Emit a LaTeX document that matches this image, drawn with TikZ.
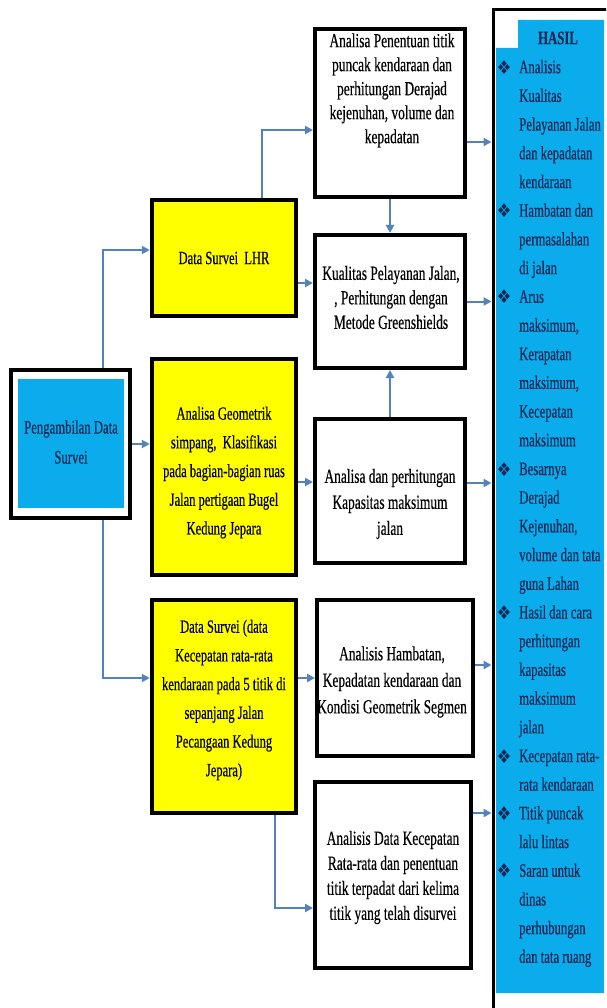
\documentclass[tikz,border=0pt]{standalone}
\usepackage{fontspec}
\setmainfont{Liberation Serif}[FakeStretch=0.67,FakeBold=0.35]
\newfontfamily\bulletfont{DejaVu Sans}[FakeStretch=0.85]
\usetikzlibrary{arrows.meta,calc}
\definecolor{cblue}{RGB}{10,172,236}
\definecolor{navy}{RGB}{20,40,85}
\definecolor{arrowc}{RGB}{84,130,188}
\definecolor{cyel}{RGB}{255,255,0}
\tikzset{
 frame/.style={draw=black, line width=4pt, inner sep=0pt},
 whitebox/.style={frame, fill=white},
 yelbox/.style={frame, line width=4.5pt, fill=cyel},
 wtxt/.style={align=center, inner sep=0pt},
 ytxt/.style={align=center, font=\fontsize{18.7}{28.7}\selectfont, inner sep=0pt},
 arr/.style={draw=arrowc, line width=2pt, -{Triangle[length=8pt,width=8pt]}},
}
\newcommand{\bul}{\makebox[12pt]{\bulletfont\fontsize{19}{19}\selectfont\raisebox{-1pt}{❖}}\hspace*{9pt}}
\newcommand{\ind}{\hspace*{21pt}}
\begin{document}
\begin{tikzpicture}[x=1pt,y=-1pt]
\useasboundingbox (0,0) rectangle (606,1008);
\clip (0,0) rectangle (606,1008);
\fill[white] (0,0) rectangle (606,1008);

% HASIL column
\node[draw=black, line width=3pt, minimum width=120pt, minimum height=1006pt, inner sep=0pt] (hasil) at (553,513) {};
\fill[cblue] (518,20) -- (604,20) -- (604,993) -- (496,993) -- (496,48) -- (518,48) -- cycle;
\node[font=\bfseries\fontsize{19}{19}\selectfont, text=navy, inner sep=0pt] (hasiltitle) at (558,38) {HASIL};
\node[anchor=north west, align=left, inner sep=0pt, text=navy, font=\fontsize{19}{28.7}\selectfont] (hasillist) at (498,53) {\rule{0pt}{20pt}\bul Analisis\\
\ind Kualitas\\
\ind Pelayanan Jalan\\
\ind dan kepadatan\\
\ind kendaraan\\
\bul Hambatan dan\\
\ind permasalahan\\
\ind di jalan\\
\bul Arus\\
\ind maksimum,\\
\ind Kerapatan\\
\ind maksimum,\\
\ind Kecepatan\\
\ind maksimum\\
\bul Besarnya\\
\ind Derajad\\
\ind Kejenuhan,\\
\ind volume dan tata\\
\ind guna Lahan\\
\bul Hasil dan cara\\
\ind perhitungan\\
\ind kapasitas\\
\ind maksimum\\
\ind jalan\\
\bul Kecepatan rata-\\
\ind rata kendaraan\\
\bul Titik puncak\\
\ind lalu lintas\\
\bul Saran untuk\\
\ind dinas\\
\ind perhubungan\\
\ind dan tata ruang};

% left box
\node[whitebox, minimum width=119pt, minimum height=148pt] (left) at (70.5,444) {};
\fill[cblue] (18,379) rectangle (124,508);
\node[align=center, text=navy, font=\fontsize{19}{30}\selectfont, inner sep=0pt] (lefttxt) at (71,442) {Pengambilan Data\\Survei};

% yellow boxes
\node[yelbox, ytxt, minimum width=144pt, minimum height=116pt] (y1) at (224,258) {Data Survei\ \ LHR};
\node[yelbox, minimum width=144pt, minimum height=216pt] (y2) at (224,467) {};
\node[ytxt] (y2t) at (224,472.6) {Analisa Geometrik\\simpang,\ \ Klasifikasi\\pada bagian-bagian ruas\\Jalan pertigaan Bugel\\Kedung Jepara};
\node[yelbox, minimum width=144pt, minimum height=213pt] (y3) at (224,706.5) {};
\node[ytxt] (y3t) at (224,700) {Data Survei (data\\Kecepatan rata-rata\\kendaraan pada 5 titik di\\sepanjang Jalan\\Pecangaan Kedung\\Jepara)};

% white boxes
\node[whitebox, minimum width=150pt, minimum height=168pt] (b1) at (390,113) {};
\node[wtxt, font=\fontsize{20}{24}\selectfont] (b1t) at (392,90.4) {Analisa Penentuan titik\\puncak kendaraan dan\\perhitungan Derajad\\kejenuhan, volume dan\\kepadatan};
\node[whitebox, minimum width=150pt, minimum height=133pt] (b2) at (390,301.5) {};
\node[wtxt, font=\fontsize{20}{24.5}\selectfont] (b2t) at (391,297.5) {Kualitas Pelayanan Jalan,\\, Perhitungan dengan\\Metode Greenshields};
\node[whitebox, minimum width=150pt, minimum height=144pt] (b3) at (390,491) {};
\node[wtxt, font=\fontsize{20}{26}\selectfont] (b3t) at (390,504) {Analisa dan perhitungan\\Kapasitas maksimum\\jalan};
\node[whitebox, minimum width=156pt, minimum height=156pt] (b4) at (395,678) {};
\node[wtxt, font=\fontsize{20}{26.5}\selectfont] (b4t) at (392,682) {Analisis Hambatan,\\Kepadatan kendaraan dan\\Kondisi Geometrik Segmen};
\node[whitebox, minimum width=156pt, minimum height=186pt] (b5) at (393,875) {};
\node[wtxt, font=\fontsize{20}{25}\selectfont] (b5t) at (393,877.5) {Analisis Data Kecepatan\\Rata-rata dan penentuan\\titik terpadat dari kelima\\titik yang telah disurvei};

% connectors
\draw[arr] ([xshift=32.5pt]left.north) |- ([yshift=8pt]y1.west);
\draw[arr] (left.east) -- (left.east -| y2.west);
\draw[arr] ([xshift=32.5pt]left.south) |- ([yshift=28.5pt]y3.west);
\draw[arr] ([xshift=38pt]y1.north) |- ([yshift=-17pt]b1.west);
\draw[arr] ([yshift=-25pt]y1.east) -- ([yshift=-25pt]y1.east -| b2.west);
\draw[arr] ([yshift=-15pt]y2.east) -- ([yshift=-15pt]y2.east -| b3.west);
\draw[arr] (y3.east |- b4.west) -- (b4.west);
\draw[arr] ([xshift=51pt]y3.south) |- ([yshift=-33pt]b5.west);
\draw[arr] (b1.south) -- (b2.north);
\draw[arr] (b3.north) -- (b2.south);
\draw[arr] ([yshift=-29pt]b1.east) -- ([yshift=-29pt]b1.east -| hasil.west);
\draw[arr] (b2.east) -- (b2.east -| hasil.west);
\draw[arr] ([yshift=8pt]b3.east) -- ([yshift=8pt]b3.east -| hasil.west);
\draw[arr] ([yshift=13pt]b4.east) -- ([yshift=13pt]b4.east -| hasil.west);
\draw[arr] ([yshift=62pt]b5.east) -- ([yshift=62pt]b5.east -| hasil.west);
\end{tikzpicture}
\end{document}
